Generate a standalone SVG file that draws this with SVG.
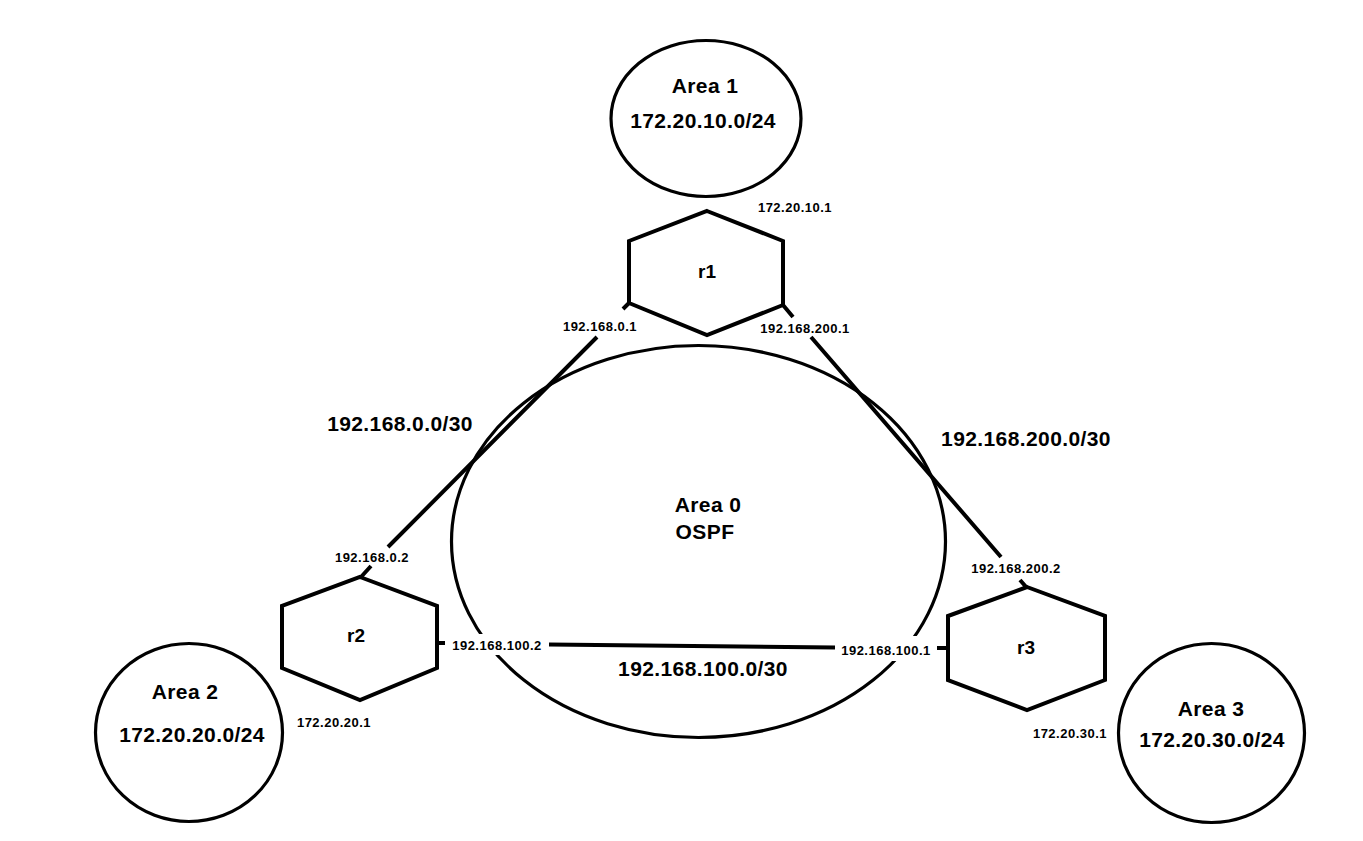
<svg xmlns="http://www.w3.org/2000/svg" width="1363" height="841" viewBox="0 0 1363 841">
<style>
.shape{fill:none;stroke:#000;stroke-width:3.2}
.hex{fill:none;stroke:#000;stroke-width:4;stroke-linejoin:miter}
.link{stroke:#000;stroke-width:4;fill:none;stroke-linecap:butt}
.mask{fill:#fff;stroke:none}
.big{font-family:"Liberation Sans",Arial,sans-serif;font-weight:bold;font-size:21px;letter-spacing:0.4px;fill:#000;text-anchor:middle}
.small{font-family:"Liberation Sans",Arial,sans-serif;font-weight:bold;font-size:13px;letter-spacing:0.5px;fill:#000;text-anchor:middle}
.rt{font-family:"Liberation Sans",Arial,sans-serif;font-weight:bold;font-size:19px;fill:#000;text-anchor:middle}
</style>
<rect width="1363" height="841" fill="#fff"/>
<g id="area0">
<ellipse class="shape" cx="698.5" cy="541.5" rx="247" ry="196"/>
<text class="big" x="708" y="512">Area 0</text>
<text class="big" x="705" y="539">OSPF</text>
</g>
<g id="area1">
<ellipse class="shape" cx="706" cy="118.5" rx="95" ry="78"/>
<text class="big" x="705" y="93">Area 1</text>
<text class="big" x="703" y="128">172.20.10.0/24</text>
</g>
<g id="area2">
<ellipse class="shape" cx="189" cy="732.5" rx="93.5" ry="89"/>
<text class="big" x="185" y="699">Area 2</text>
<text class="big" x="192" y="742">172.20.20.0/24</text>
</g>
<g id="area3">
<ellipse class="shape" cx="1211.5" cy="733" rx="93" ry="89.5"/>
<text class="big" x="1211" y="716">Area 3</text>
<text class="big" x="1212" y="747">172.20.30.0/24</text>
</g>
<g id="connectors">
<path class="link" d="M629,303 L623,309 M597,337 L388,547 M371,566 L361,577"/>
<path class="link" d="M783,305 L793,317 M811,337 L1001,557 M1020,580 L1027,588"/>
<rect class="mask" x="447" y="634" width="101" height="21"/>
<rect class="mask" x="838" y="636" width="97" height="25"/>
<path class="link" d="M437,643 L445,643 M549,644.5 L835,647.5 M937,648 L948,648" stroke-width="4.5"/>
<text class="big" x="400" y="431">192.168.0.0/30</text>
<text class="big" x="1026" y="446">192.168.200.0/30</text>
<text class="big" x="703" y="676">192.168.100.0/30</text>
<text class="small" x="600" y="331">192.168.0.1</text>
<text class="small" x="805" y="333">192.168.200.1</text>
<text class="small" x="372" y="562">192.168.0.2</text>
<text class="small" x="497" y="650">192.168.100.2</text>
<text class="small" x="1016" y="573">192.168.200.2</text>
<text class="small" x="886" y="655">192.168.100.1</text>
</g>
<g id="r1">
<polygon class="hex" points="707,211 783,241 783,305 707,335 629,303 629,241"/>
<text class="rt" x="707" y="278">r1</text>
<text class="small" x="795" y="212">172.20.10.1</text>
</g>
<g id="r2">
<polygon class="hex" points="360,577 437,606 437,668 360,700 282,668 282,606"/>
<text class="rt" x="356" y="642">r2</text>
<text class="small" x="334" y="727">172.20.20.1</text>
</g>
<g id="r3">
<polygon class="hex" points="1027,587 1105,616 1105,680 1027,710 948,680 948,616"/>
<text class="rt" x="1026" y="654">r3</text>
<text class="small" x="1070" y="738">172.20.30.1</text>
</g>
</svg>
